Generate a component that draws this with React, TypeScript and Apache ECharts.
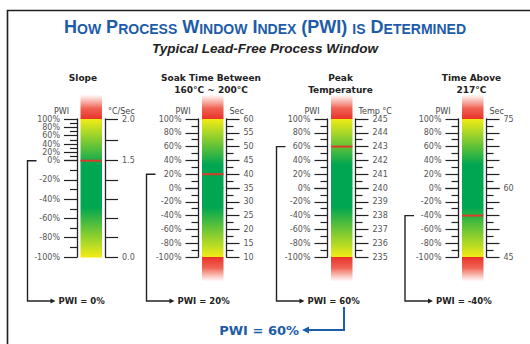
import React, { useEffect, useRef } from 'react';
import * as echarts from 'echarts';

// ---------- data ----------
const gaugeTitles = ['Slope', 'Soak Time Between\n160°C ~ 200°C', 'Peak\nTemperature', 'Time Above\n217°C'];
const unitNames = ['°C/Sec', 'Sec', 'Temp °C', 'Sec'];
const pwiValues = [0, 20, 60, -40];
const pwiMin = -100;
const pwiMax = 100;
const pwiStep = 20;
const unitAtMinus100 = [0.0, 10, 235, 45];
const unitAtZero = [1.5, 35, 240, 60];
const unitAt100 = [2.0, 60, 245, 75];
const unitStepUpper = [0.25, 5, 1, 3];
const unitStepLower = [0.3, 5, 1, 3];
const unitMinorSplit = [0, 2, 2, 2];
const unitLabelSet: (number[] | null)[] = [[0.0, 1.5, 2.0], null, null, [45, 60, 75]];
const unitDecimals = [1, 0, 0, 0];
const hasBottomCap = [false, true, true, true];

// ---------- layout ----------
const TOP_Y = 119;
const BOTTOM_Y = 257;
const CAP = 24;
const barLeft = [80.5, 202, 331, 462];
const barWidth = 21.5;
const upperFrac = [0.302, 0.5, 0.5, 0.5];
const connectorX = [27.5, 146.5, 276.5, 405];
const connectorBottomY = 301;
const titleX = [83, 211, 340.5, 471.5];

const YELLOW = '#f4ec15';
const GREEN = '#00a651';
const barStops = [
  { o: 0, c: YELLOW },
  { o: 0.33, c: GREEN },
  { o: 0.64, c: GREEN },
  { o: 1, c: YELLOW },
];
function colorAt(f: number): string {
  for (let i = 0; i < barStops.length - 1; i++) {
    const a = barStops[i], b = barStops[i + 1];
    if (f >= a.o && f <= b.o) {
      const t = (f - a.o) / (b.o - a.o || 1);
      return echarts.color.lerp(t, [a.c, b.c]) as string;
    }
  }
  return YELLOW;
}
function gradPiece(f0: number, f1: number) {
  const stops: any[] = [{ offset: 0, color: colorAt(f0) }];
  barStops.forEach((s) => {
    if (s.o > f0 && s.o < f1) stops.push({ offset: (s.o - f0) / (f1 - f0), color: s.c });
  });
  stops.push({ offset: 1, color: colorAt(f1) });
  return { type: 'linear', x: 0, y: 0, x2: 0, y2: 1, colorStops: stops };
}

const FONT = 'DejaVu Sans';
const INK = '#222';
const BLUE = '#1d5ca8';

export default function App() {
  const ref = useRef<HTMLDivElement>(null);
  useEffect(() => {
    document.body.style.margin = '0';
    if (!ref.current) return;
    const chart = echarts.init(ref.current, undefined, { renderer: 'svg' });

    let maxIdx = 0;
    pwiValues.forEach((v, i) => {
      if (Math.abs(v) > Math.abs(pwiValues[maxIdx])) maxIdx = i;
    });

    type Seg = {
      gauge: number; upper: boolean; top: number; height: number;
      pLo: number; pHi: number; uLo: number; uHi: number; uStep: number;
      f0: number; f1: number; topCap: boolean; bottomCap: boolean; owner: boolean;
    };
    const segs: Seg[] = [];
    pwiValues.forEach((v, i) => {
      const split = upperFrac[i];
      const yMid = TOP_Y + (BOTTOM_Y - TOP_Y) * split;
      segs.push({
        gauge: i, upper: true, top: TOP_Y, height: yMid - TOP_Y,
        pLo: 0, pHi: pwiMax, uLo: unitAtZero[i], uHi: unitAt100[i], uStep: unitStepUpper[i],
        f0: 0, f1: split, topCap: true, bottomCap: false, owner: v > 0,
      });
      segs.push({
        gauge: i, upper: false, top: yMid, height: BOTTOM_Y - yMid,
        pLo: pwiMin, pHi: 0, uLo: unitAtMinus100[i], uHi: unitAtZero[i], uStep: unitStepLower[i],
        f0: split, f1: 1, topCap: false, bottomCap: hasBottomCap[i], owner: v <= 0,
      });
    });

    const tickLine = { color: INK, width: 1.2 };
    const grid: any[] = [];
    const xAxis: any[] = [];
    const yAxis: any[] = [];
    const series: any[] = [];

    segs.forEach((s, gi) => {
      const i = s.gauge;
      grid.push({ left: barLeft[i], width: barWidth, top: s.top, height: s.height });
      xAxis.push({ gridIndex: gi, type: 'category', data: ['g'], show: false });
      yAxis.push({
        gridIndex: gi, type: 'value', position: 'left', offset: 3.5,
        min: s.pLo, max: s.pHi, interval: pwiStep,
        name: s.upper ? 'PWI' : '', nameLocation: 'end', nameGap: 4,
        nameTextStyle: { align: 'right', padding: [0, 8, 0, 0], fontFamily: FONT, fontSize: 8, color: '#444' },
        axisLine: { show: true, lineStyle: { color: INK, width: 1.3 } },
        axisTick: { show: true, length: 13, lineStyle: tickLine },
        minorTick: { show: true, splitNumber: 2, length: 7, lineStyle: tickLine },
        splitLine: { show: false },
        minorSplitLine: { show: false },
        axisLabel: {
          margin: 17, fontFamily: FONT, fontSize: 8, color: '#555',
          showMinLabel: !s.upper, showMaxLabel: true,
          formatter: (v: number) => `${Math.round(v)}%`,
        },
      });
      const set = unitLabelSet[i];
      const minor = unitMinorSplit[i];
      yAxis.push({
        gridIndex: gi, type: 'value', position: 'right', offset: 3,
        min: s.uLo, max: s.uHi, interval: s.uStep,
        name: s.upper ? unitNames[i] : '', nameLocation: 'end', nameGap: 4,
        nameTextStyle: { align: 'left', padding: [0, 0, 0, 3], fontFamily: FONT, fontSize: 8, color: '#444' },
        axisLine: { show: true, lineStyle: { color: INK, width: 1.3 } },
        axisTick: { show: true, length: 13, lineStyle: tickLine },
        minorTick: { show: minor > 0, splitNumber: minor || 2, length: 7, lineStyle: tickLine },
        splitLine: { show: false },
        minorSplitLine: { show: false },
        axisLabel: {
          margin: 17, fontFamily: FONT, fontSize: 8, color: '#555',
          showMinLabel: !s.upper, showMaxLabel: true,
          formatter: (v: number) => {
            if (set && !set.some((a) => Math.abs(a - v) < 1e-6)) return '';
            return v.toFixed(unitDecimals[i]);
          },
        },
      });
      series.push({
        type: 'custom',
        xAxisIndex: gi,
        yAxisIndex: gi * 2,
        clip: false,
        silent: true,
        data: [[0, pwiValues[i]]],
        renderItem: (params: any, api: any) => {
          const pTop = api.coord([0, s.pHi]);
          const pBot = api.coord([0, s.pLo]);
          const w = api.size([1, 0])[0];
          const x0 = pTop[0] - w / 2;
          const ch: any[] = [];
          ch.push({
            type: 'rect',
            shape: { x: x0, y: pTop[1] - 0.4, width: w, height: pBot[1] - pTop[1] + 0.8 },
            style: { fill: gradPiece(s.f0, s.f1) },
          });
          if (s.topCap) {
            ch.push({
              type: 'rect',
              shape: { x: x0, y: pTop[1] - CAP, width: w, height: CAP },
              style: {
                fill: {
                  type: 'linear', x: 0, y: 0, x2: 0, y2: 1,
                  colorStops: [
                    { offset: 0, color: 'rgba(240,80,60,0.03)' },
                    { offset: 0.55, color: 'rgba(236,60,42,0.8)' },
                    { offset: 1, color: '#e8322a' },
                  ],
                },
              },
            });
          }
          if (s.bottomCap) {
            ch.push({
              type: 'rect',
              shape: { x: x0, y: pBot[1], width: w, height: CAP },
              style: {
                fill: {
                  type: 'linear', x: 0, y: 0, x2: 0, y2: 1,
                  colorStops: [
                    { offset: 0, color: '#e8322a' },
                    { offset: 0.45, color: 'rgba(236,60,42,0.8)' },
                    { offset: 1, color: 'rgba(240,80,60,0.03)' },
                  ],
                },
              },
            });
          }
          if (s.owner) {
            const v = api.value(1);
            const py = api.coord([0, v])[1];
            ch.push({
              type: 'rect',
              shape: { x: x0, y: py - 1, width: w, height: 2 },
              style: { fill: '#dc3a2c' },
            });
            const cx = connectorX[i];
            const tip = cx + 28;
            const by = connectorBottomY;
            ch.push({
              type: 'polyline',
              shape: { points: [[cx + 9, py], [cx, py], [cx, by], [tip - 3, by]] },
              style: { stroke: INK, lineWidth: 1.4, fill: 'none' },
            });
            ch.push({
              type: 'polygon',
              shape: { points: [[tip, by], [tip - 5, by - 2.5], [tip - 5, by + 2.5]] },
              style: { fill: INK },
            });
            ch.push({
              type: 'text',
              style: {
                x: tip + 3, y: by, text: `PWI = ${v}%`, fill: INK,
                fontFamily: FONT, fontWeight: 'bold', fontSize: 8.5,
                align: 'left', verticalAlign: 'middle',
              },
            });
            if (i === maxIdx) {
              const bx = cx + 67.5;
              const bTip = bx - 42;
              const bY = 330;
              ch.push({
                type: 'polyline',
                shape: { points: [[bx, by + 6], [bx, bY], [bTip + 4, bY]] },
                style: { stroke: BLUE, lineWidth: 2, fill: 'none' },
              });
              ch.push({
                type: 'polygon',
                shape: { points: [[bTip, bY], [bTip + 7, bY - 3.5], [bTip + 7, bY + 3.5]] },
                style: { fill: BLUE },
              });
              ch.push({
                type: 'text',
                style: {
                  x: bTip - 3, y: bY, text: `PWI = ${v}%`, fill: BLUE,
                  fontFamily: FONT, fontWeight: 'bold', fontSize: 13,
                  align: 'right', verticalAlign: 'middle',
                },
              });
            }
          }
          return { type: 'group', children: ch };
        },
      });
    });

    const graphic: any[] = [
      {
        type: 'polyline',
        shape: { points: [[7.5, 360], [7.5, 10.5], [545, 10.5]] },
        style: { stroke: '#231f20', lineWidth: 1.6, fill: 'none' },
        silent: true,
      },
    ];
    gaugeTitles.forEach((t, i) => {
      graphic.push({
        type: 'text',
        x: titleX[i],
        y: 72.5,
        style: {
          text: t, fill: INK, fontFamily: FONT, fontWeight: 'bold', fontSize: 9,
          lineHeight: 11.5, align: 'center', verticalAlign: 'top',
        },
      });
    });

    const big = { fontFamily: 'Liberation Sans', fontWeight: 'bold', fontSize: 18, color: BLUE, verticalAlign: 'bottom' };
    const small = { fontFamily: 'Liberation Sans', fontWeight: 'bold', fontSize: 14, color: BLUE, verticalAlign: 'bottom' };

    chart.setOption({
      animation: false,
      title: [
        {
          left: 'center',
          top: 18,
          padding: 0,
          itemGap: 5,
          text: '{b|H}{s|OW} {b|P}{s|ROCESS} {b|W}{s|INDOW} {b|I}{s|NDEX} {b|(PWI)} {s|IS} {b|D}{s|ETERMINED}',
          textStyle: { rich: { b: big, s: small } },
          subtext: 'Typical Lead-Free Process Window',
          subtextStyle: {
            fontFamily: 'Liberation Sans', fontStyle: 'italic', fontWeight: 'bold',
            fontSize: 13.5, color: '#222',
          },
        },
      ],
      grid,
      xAxis,
      yAxis,
      series,
      graphic,
    });
    return () => chart.dispose();
  }, []);
  return <div ref={ref} style={{ width: 530, height: 344 }} />;
}
